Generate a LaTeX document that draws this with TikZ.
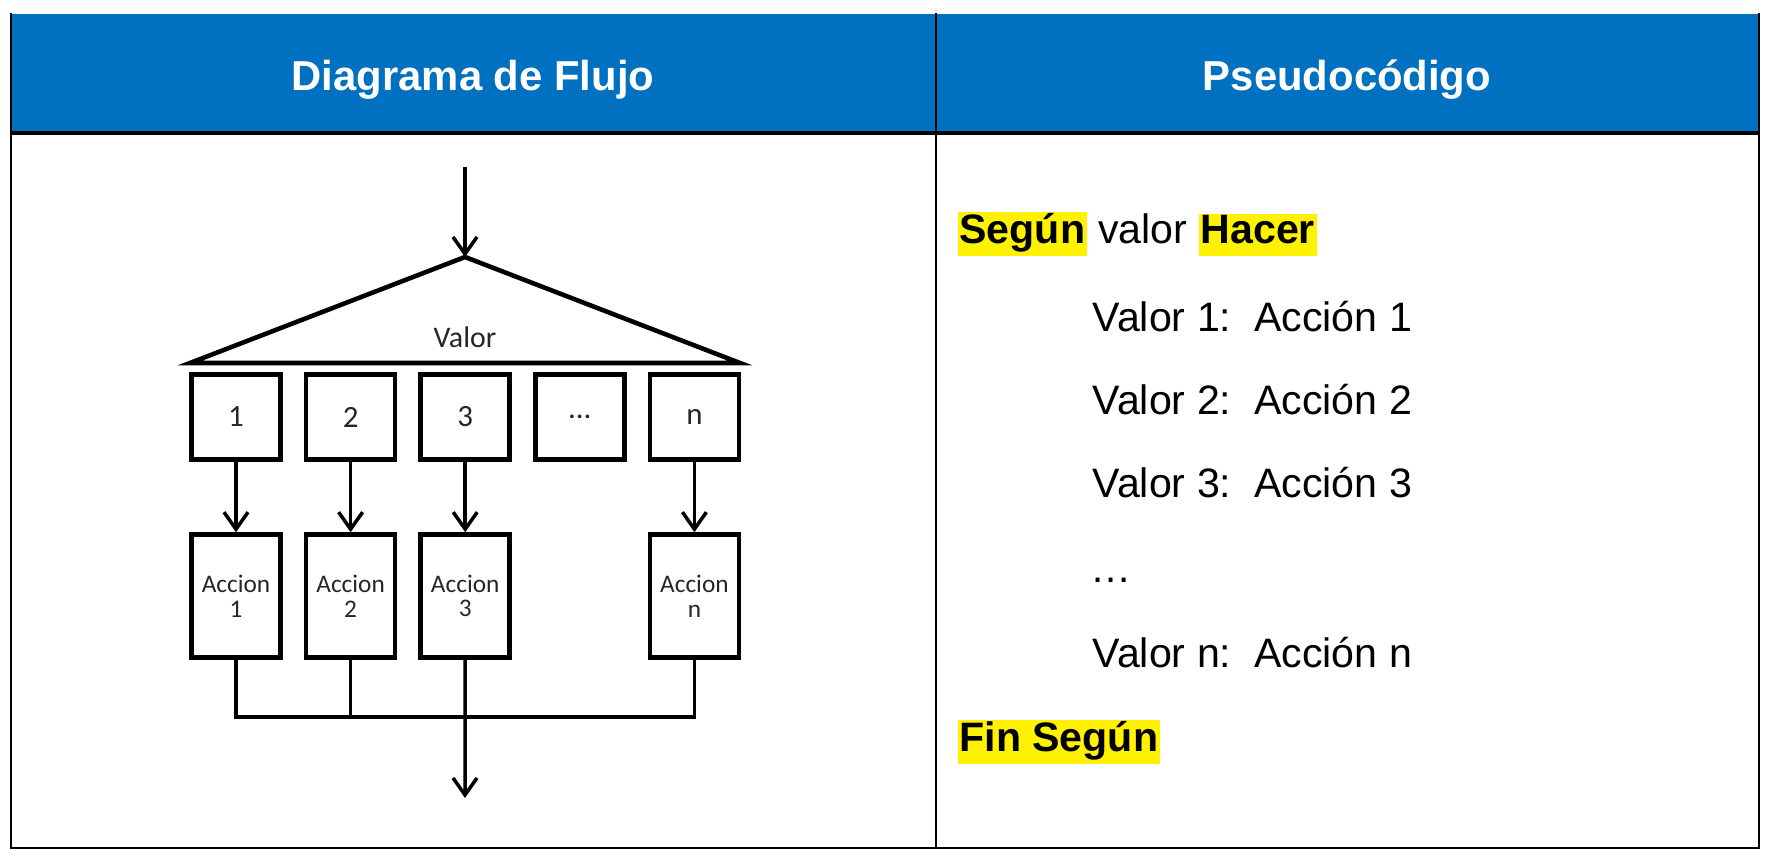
\documentclass[tikz,border=0pt]{standalone}
\usepackage{fontspec}
\setmainfont{Liberation Sans}
\newfontfamily\boxfont{Carlito}
\usepackage{tikz}
\usetikzlibrary{arrows.meta, positioning}
\definecolor{headblue}{RGB}{0,112,192}
\newcommand{\hlw}[1]{{\setlength{\fboxsep}{0.5pt}\colorbox{yellow}{\rule[-1mm]{0pt}{3.7mm}\textbf{#1}}}}

\begin{document}
\begin{tikzpicture}[x=0.1mm, y=-0.1mm, node distance=11.46mm, on grid,
	>={Straight Barb[length=1.7mm,width=2.4mm]},
	valbox/.style={draw, line width=1.3pt, minimum width=8.9mm, minimum height=8.5mm, inner sep=0pt, text=black!85, font=\boxfont\fontsize{8.8pt}{9pt}\selectfont},
	actbox/.style={valbox, minimum height=12.3mm, align=center, font=\boxfont\fontsize{7.2pt}{7pt}\selectfont},
	flow/.style={line width=1pt},
	code/.style={anchor=base west, inner sep=0pt, font=\fontsize{11.7pt}{14pt}\selectfont},
	head/.style={text=white, font=\bfseries\fontsize{11.9pt}{13pt}\selectfont}]
	\useasboundingbox (0,0) rectangle (1770,857);
	
	% Table
	\fill[headblue] (11,14) rectangle (1759,133);
	\draw[line width=0.5pt] (11,13) -- (11,848) -- (1759,848) -- (1759,13);
	\draw[line width=0.5pt] (936,13) -- (936,848);
	\draw[line width=0.9pt] (11,133) -- (1759,133);
	\node[head] (h1) at (473,80) {Diagrama de Flujo};
	\node[head] (h2) at (1347,80) {Pseudocódigo};
	
	% Flowchart
	\coordinate (entry) at (465,167);
	\coordinate (apex) at (465,257);
	\coordinate (bl) at (190,363);
	\coordinate (br) at (740,363);
	\draw[line width=1.3pt] (bl) -- (apex) -- (br) -- cycle;
	\node[font=\boxfont\fontsize{8.5pt}{9pt}\selectfont, text=black!85] (val) at (465,337) {Valor};
	
	\node[valbox] (c1) at (236,417) {1};
	\node[valbox, right=of c1] (c2) {2};
	\node[valbox, right=of c2] (c3) {3};
	\node[valbox, right=of c3] (c4) {...};
	\node[valbox, right=of c4] (cn) {n};
	\node[actbox, below=17.9mm of c1] (a1) {Accion\\1};
	\node[actbox, below=17.9mm of c2] (a2) {Accion\\2};
	\node[actbox, below=17.9mm of c3] (a3) {Accion\\3};
	\node[actbox, below=17.9mm of cn] (an) {Accion\\n};
	\coordinate (join) at (465,717);
	\coordinate (exit) at (465,798);
	
	% Connectors
	\draw[flow, ->] (entry) -- (apex);
	\path[->]
	(c1) edge[flow] (a1)
	(c2) edge[flow] (a2)
	(c3) edge[flow] (a3)
	(cn) edge[flow] (an);
	\draw[flow] (a1.south) |- (an.south |- join) -- (an.south);
	\draw[flow] (a2.south) -- (a2.south |- join);
	\draw[flow, ->] (a3.south) -- (exit);
	
	% Pseudocode
	\node[code] (l0) at (957,244) {\hlw{Según} valor \hlw{Hacer}};
	\node[code] (l1) at (1092,332) {Valor 1:~~Acción 1};
	\node[code] (l2) at (1092,415) {Valor 2:~~Acción 2};
	\node[code] (l3) at (1092,498) {Valor 3:~~Acción 3};
	\node[code] (l4) at (1090,583) {…};
	\node[code] (l5) at (1092,668) {Valor n:~~Acción n};
	\node[code] (l6) at (957,752) {\hlw{Fin Según}};
\end{tikzpicture}
\end{document}
